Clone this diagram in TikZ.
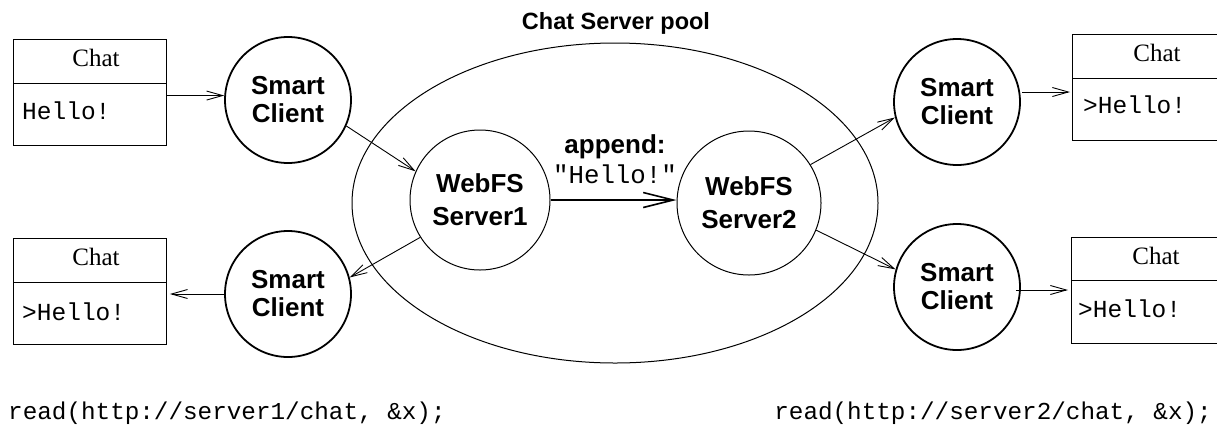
\documentclass[tikz,border=0pt]{standalone}
\usepackage{fontspec}
\setmainfont{Liberation Serif}
\setsansfont{Liberation Sans}
\setmonofont{Liberation Mono}
\usetikzlibrary{arrows.meta,shapes.geometric}
\begin{document}
\begin{tikzpicture}[x=1pt,y=-1pt,
  sc/.style={circle,draw,line width=1.8pt,minimum size=126pt,inner sep=0pt,align=center,font=\sffamily\bfseries\fontsize{26}{28}\selectfont},
  srv/.style={circle,draw,line width=1pt,minimum size=142pt,inner sep=0pt,align=center,font=\sffamily\bfseries\fontsize{26}{33}\selectfont},
  chatbox/.style={draw,line width=0.9pt,minimum width=153pt,minimum height=106pt,anchor=north west,inner sep=0pt},
  ttl/.style={font=\fontsize{25}{25}\selectfont,anchor=base,inner sep=0pt},
  msg/.style={font=\ttfamily\fontsize{24.5}{25}\selectfont,anchor=base west,inner sep=0pt},
  arr/.style={-{Straight Barb[length=16pt,width=9pt,line width=0.9pt]},line width=0.9pt},
  bigarr/.style={-{Straight Barb[length=30pt,width=15pt,line width=1.6pt]},line width=1.6pt},
  divider/.style={line width=0.9pt},
]
\useasboundingbox (0,0) rectangle (1217,429);
\clip (0,0) rectangle (1217,429);

% pool
\node[ellipse,draw,line width=1pt,minimum width=526pt,minimum height=320pt,inner sep=0pt] (pool) at (615,203) {};
\node[font=\sffamily\bfseries\fontsize{23.5}{26}\selectfont,anchor=base,inner sep=0pt] (title) at (616,29) {Chat Server pool};

% chat boxes
\node[chatbox] (b1) at (13,39) {};
\draw[divider] (b1.west |- 0,83) -- (b1.east |- 0,83);
\node[ttl] (t1) at (96,66) {Chat};
\node[msg] (m1) at (22,119) {Hello!};

\node[chatbox] (b2) at (13,238) {};
\draw[divider] (b2.west |- 0,282) -- (b2.east |- 0,282);
\node[ttl] (t2) at (96,265) {Chat};
\node[msg] (m2) at (22,320) {>Hello!};

\node[chatbox] (b3) at (1072,34) {};
\draw[divider] (b3.west |- 0,78) -- (b3.east |- 0,78);
\node[ttl] (t3) at (1157,61) {Chat};
\node[msg] (m3) at (1083,113) {>Hello!};

\node[chatbox] (b4) at (1071,237) {};
\draw[divider] (b4.west |- 0,280) -- (b4.east |- 0,280);
\node[ttl] (t4) at (1156,264) {Chat};
\node[msg] (m4) at (1078,317) {>Hello!};

% clients
\node[sc] (c1) at (288,100) {Smart\\Client};
\node[sc] (c2) at (288,294) {Smart\\Client};
\node[sc] (c3) at (957,102) {Smart\\Client};
\node[sc] (c4) at (957,287) {Smart\\Client};

% servers
\node[srv,minimum size=140pt] (s1) at (480,200) {WebFS\\Server1};
\node[srv,minimum size=144pt] (s2) at (749,203) {WebFS\\Server2};

% labels
\node[font=\sffamily\bfseries\fontsize{26}{28}\selectfont,anchor=base,inner sep=0pt] (lab1) at (615,153) {append:};
\node[font=\ttfamily\fontsize{25.8}{26}\selectfont,anchor=base,inner sep=0pt] (lab2) at (615,183) {"Hello!"};

% connectors
\draw[arr] (b1.east |- c1.176) -- (c1.176);
\draw[arr] (c1.-24) -- (s1.156);
\draw[arr] (s1.212) -- (c2.15);
\draw[arr] (c2.west) -- ([xshift=3pt]b2.east |- c2.west);
\draw[bigarr] (s1.east) -- (s2.west |- s1.east);
\draw[arr] (s2.32) -- (c3.194);
\draw[arr] (s2.-22) -- (c4.164);
\draw[arr] ([xshift=2pt]c3.9) -- ([xshift=-2pt]b3.west |- c3.9);
\coordinate (c4o) at ([shift={(-5pt,-3pt)}]c4.east);
\draw[arr] (c4o) -- ([xshift=-3pt]b4.west |- c4o);

% code lines
\node[font=\ttfamily\fontsize{24.3}{25}\selectfont,anchor=base west,inner sep=0pt] (r1) at (8,419) {read(http://server1/chat, \&x);};
\node[font=\ttfamily\fontsize{24.3}{25}\selectfont,anchor=base east,inner sep=0pt] (r2) at (1212,419) {read(http://server2/chat, \&x);};
\end{tikzpicture}
\end{document}
